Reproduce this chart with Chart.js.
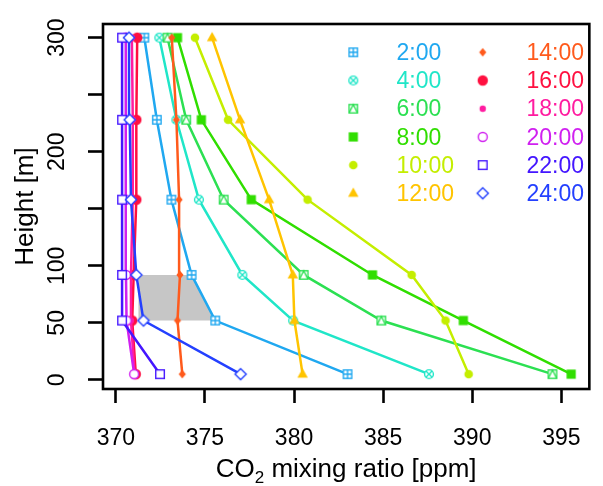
<!DOCTYPE html>
<html><head><meta charset="utf-8">
<script src="https://cdn.jsdelivr.net/npm/chart.js@4/dist/chart.umd.min.js"></script>
<style>html,body{margin:0;padding:0;background:#fff;}#wrap{width:603px;height:486px;}</style>
</head><body><div id="wrap"><canvas id="c" width="603" height="486"></canvas></div>
<script>
// ---- data ----
const heights = [5, 52, 92, 158, 228, 300];
const seriesNames = ['2:00','4:00','6:00','8:00','10:00','12:00','14:00','16:00','18:00','20:00','22:00','24:00'];
const co2_0200 = [383.0, 375.58, 374.25, 373.12, 372.3, 371.6];
const co2_0400 = [387.57, 379.95, 377.1, 374.66, 373.4, 372.44];
const co2_0600 = [394.5, 384.9, 380.54, 376.05, 373.95, 372.9];
const co2_0800 = [395.55, 389.5, 384.4, 377.6, 374.8, 373.46];
const co2_1000 = [389.8, 388.5, 386.6, 380.76, 376.3, 374.44];
const co2_1200 = [380.48, 380.02, 379.93, 378.6, 376.97, 375.4];
const co2_1400 = [373.73, 373.46, 373.6, 373.55, 373.4, 373.14];
const co2_1600 = [371.12, 370.92, 371.0, 371.15, 371.15, 371.2];
const co2_1800 = [371.05, 370.85, 370.85, 370.95, 370.95, 370.9];
const co2_2000 = [371.03, 370.6, 370.57, 370.55, 370.55, 370.57];
const co2_2200 = [372.48, 370.35, 370.35, 370.35, 370.35, 370.35];
const co2_2400 = [377.0, 371.55, 371.15, 370.85, 370.78, 370.74];
const seriesValues = [co2_0200,co2_0400,co2_0600,co2_0800,co2_1000,co2_1200,co2_1400,co2_1600,co2_1800,co2_2000,co2_2200,co2_2400];
const xTickValues = [370, 375, 380, 385, 390, 395];
const yTickLabels = [0, 50, 100, 200, 300];
const yTickMarks = [0, 50, 100, 150, 200, 250, 300];
// shaded band between 52 m and 92 m, from 371.27 ppm to the 2:00 profile
const shadeLeftX = 371.27;
const shadeHeights = [52, 92];

// ---- styles ----
const colors = ['#20a8f0','#20e6c8','#2ce052','#30de00','#c4ee00','#ffc400','#ff5a1c','#ff1040','#ff1ca0','#d020f0','#4416ff','#2440ff'];
const FONT = '"Liberation Sans", Arial, Helvetica, sans-serif';

function mk(draw){const c=document.createElement('canvas');c.width=16;c.height=16;const g=c.getContext('2d');g.translate(8,8);g.lineWidth=1.4;draw(g);return c;}
const markerMakers = [
 col=>mk(g=>{g.fillStyle='#fff';g.fillRect(-4.2,-4.2,8.4,8.4);g.strokeStyle=col;g.strokeRect(-4.2,-4.2,8.4,8.4);g.beginPath();g.moveTo(0,-4.2);g.lineTo(0,4.2);g.moveTo(-4.2,0);g.lineTo(4.2,0);g.stroke();}),
 col=>mk(g=>{g.fillStyle='#fff';g.beginPath();g.arc(0,0,4.4,0,Math.PI*2);g.fill();g.strokeStyle=col;g.stroke();const d=3.0;g.beginPath();g.moveTo(-d,-d);g.lineTo(d,d);g.moveTo(-d,d);g.lineTo(d,-d);g.stroke();}),
 col=>mk(g=>{g.fillStyle='#fff';g.fillRect(-4.2,-4.2,8.4,8.4);g.strokeStyle=col;g.strokeRect(-4.2,-4.2,8.4,8.4);g.beginPath();g.moveTo(-4.2,4.2);g.lineTo(0,-4.2);g.lineTo(4.2,4.2);g.stroke();}),
 col=>mk(g=>{g.fillStyle=col;g.fillRect(-4.6,-4.6,9.2,9.2);}),
 col=>mk(g=>{g.fillStyle=col;g.beginPath();g.arc(0,0,4.3,0,Math.PI*2);g.fill();}),
 col=>mk(g=>{g.fillStyle=col;g.beginPath();g.moveTo(0,-5.8);g.lineTo(5.2,3.6);g.lineTo(-5.2,3.6);g.closePath();g.fill();}),
 col=>mk(g=>{g.fillStyle=col;g.beginPath();g.moveTo(0,-4.2);g.lineTo(3.6,0);g.lineTo(0,4.2);g.lineTo(-3.6,0);g.closePath();g.fill();}),
 col=>mk(g=>{g.fillStyle=col;g.beginPath();g.arc(0,0,5.2,0,Math.PI*2);g.fill();}),
 col=>mk(g=>{g.fillStyle=col;g.beginPath();g.arc(0,0,3.2,0,Math.PI*2);g.fill();}),
 col=>mk(g=>{g.fillStyle='#fff';g.beginPath();g.arc(0,0,4.5,0,Math.PI*2);g.fill();g.strokeStyle=col;g.stroke();}),
 col=>mk(g=>{g.fillStyle='#fff';g.fillRect(-4.3,-4.3,8.6,8.6);g.strokeStyle=col;g.strokeRect(-4.3,-4.3,8.6,8.6);}),
 col=>mk(g=>{g.fillStyle='#fff';g.beginPath();g.moveTo(0,-5.6);g.lineTo(5.6,0);g.lineTo(0,5.6);g.lineTo(-5.6,0);g.closePath();g.fill();g.strokeStyle=col;g.stroke();})
];
const markers = colors.map((c,i)=>markerMakers[i](c));

const datasets = seriesNames.map((name,i)=>({
  label: name,
  data: heights.map((h,j)=>({x: seriesValues[i][j], y: h})),
  showLine: true,
  borderColor: colors[i],
  backgroundColor: colors[i],
  borderWidth: 2.5,
  pointStyle: markers[i],
  pointRadius: 5,
  tension: 0,
  fill: false,
  order: 12 - i
}));

const shadePlugin = {
  id: 'shade',
  beforeDatasetsDraw(chart){
    const {ctx, scales:{x, y}} = chart;
    const idx0 = heights.indexOf(shadeHeights[0]), idx1 = heights.indexOf(shadeHeights[1]);
    ctx.save();
    ctx.fillStyle = '#c6c6c6';
    ctx.beginPath();
    ctx.moveTo(x.getPixelForValue(shadeLeftX), y.getPixelForValue(shadeHeights[1]));
    ctx.lineTo(x.getPixelForValue(co2_0200[idx1]), y.getPixelForValue(shadeHeights[1]));
    ctx.lineTo(x.getPixelForValue(co2_0200[idx0]), y.getPixelForValue(shadeHeights[0]));
    ctx.lineTo(x.getPixelForValue(shadeLeftX), y.getPixelForValue(shadeHeights[0]));
    ctx.closePath();
    ctx.fill();
    ctx.restore();
  }
};

const textPlugin = {
  id: 'texts',
  afterDraw(chart){
    const {ctx, chartArea:a, scales:{x, y}} = chart;
    ctx.save();
    // frame
    ctx.strokeStyle = '#000'; ctx.lineWidth = 2.6;
    ctx.strokeRect(a.left, a.top, a.right - a.left, a.bottom - a.top);
    // y tick labels (rotated)
    ctx.fillStyle = '#000';
    ctx.font = '23px ' + FONT;
    ctx.textAlign = 'center'; ctx.textBaseline = 'alphabetic';
    yTickLabels.forEach(v=>{
      ctx.save();
      ctx.translate(64, y.getPixelForValue(v));
      ctx.rotate(-Math.PI/2);
      ctx.fillText(String(v), 0, 0);
      ctx.restore();
    });
    // y title
    ctx.font = '26px ' + FONT;
    ctx.save();
    ctx.translate(33, (a.top + a.bottom)/2);
    ctx.rotate(-Math.PI/2);
    ctx.fillText('Height [m]', 0, 0);
    ctx.restore();
    // x title with subscript
    const big = '26px ' + FONT, small = '17px ' + FONT;
    const p1 = 'CO', p2 = '2', p3 = ' mixing ratio [ppm]';
    ctx.font = big; const w1 = ctx.measureText(p1).width, w3 = ctx.measureText(p3).width;
    ctx.font = small; const w2 = ctx.measureText(p2).width;
    let sx = (a.left + a.right)/2 - (w1+w2+w3)/2;
    const by = 477;
    ctx.textAlign = 'left';
    ctx.font = big; ctx.fillText(p1, sx, by); sx += w1;
    ctx.font = small; ctx.fillText(p2, sx, by + 6); sx += w2;
    ctx.font = big; ctx.fillText(p3, sx, by);
    // legend
    ctx.font = '23px ' + FONT;
    for (let i = 0; i < 12; i++){
      const col = Math.floor(i/6), row = i % 6;
      const base = 60 + row*28.2;
      const mx = col === 0 ? 353.3 : 482.7;
      const m = markers[i];
      ctx.drawImage(m, mx - m.width/2, base - 7.7 - m.height/2);
      ctx.fillStyle = colors[i];
      if (col === 0){ ctx.textAlign = 'left'; ctx.fillText(seriesNames[i], 396.5, base); }
      else { ctx.textAlign = 'right'; ctx.fillText(seriesNames[i], 584, base); }
    }
    ctx.restore();
  }
};

new Chart(document.getElementById('c'), {
  type: 'scatter',
  data: { datasets },
  options: {
    responsive: false,
    animation: false,
    devicePixelRatio: 1,
    layout: { padding: { top: 24, right: 8, left: 0, bottom: 0 } },
    plugins: { legend: { display: false }, tooltip: { enabled: false } },
    scales: {
      x: {
        type: 'linear', position: 'bottom', min: 369.28, max: 396.57,
        afterBuildTicks: s => { s.ticks = xTickValues.map(v=>({value: v})); },
        ticks: { font: { family: FONT, size: 23 }, color: '#000', padding: 22, maxRotation: 0, autoSkip: false },
        grid: { drawOnChartArea: false, drawTicks: true, tickLength: 14, tickColor: '#000', tickWidth: 2.6 },
        border: { display: false },
        afterFit: s => { s.height = 97; }
      },
      y: {
        type: 'linear', position: 'left', min: -8, max: 312,
        afterBuildTicks: s => { s.ticks = yTickMarks.map(v=>({value: v})); },
        ticks: { display: false },
        grid: { drawOnChartArea: false, drawTicks: true, tickLength: 15, tickColor: '#000', tickWidth: 2.6 },
        border: { display: false },
        afterFit: s => { s.width = 103; }
      }
    }
  },
  plugins: [shadePlugin, textPlugin]
});
</script></body></html>
